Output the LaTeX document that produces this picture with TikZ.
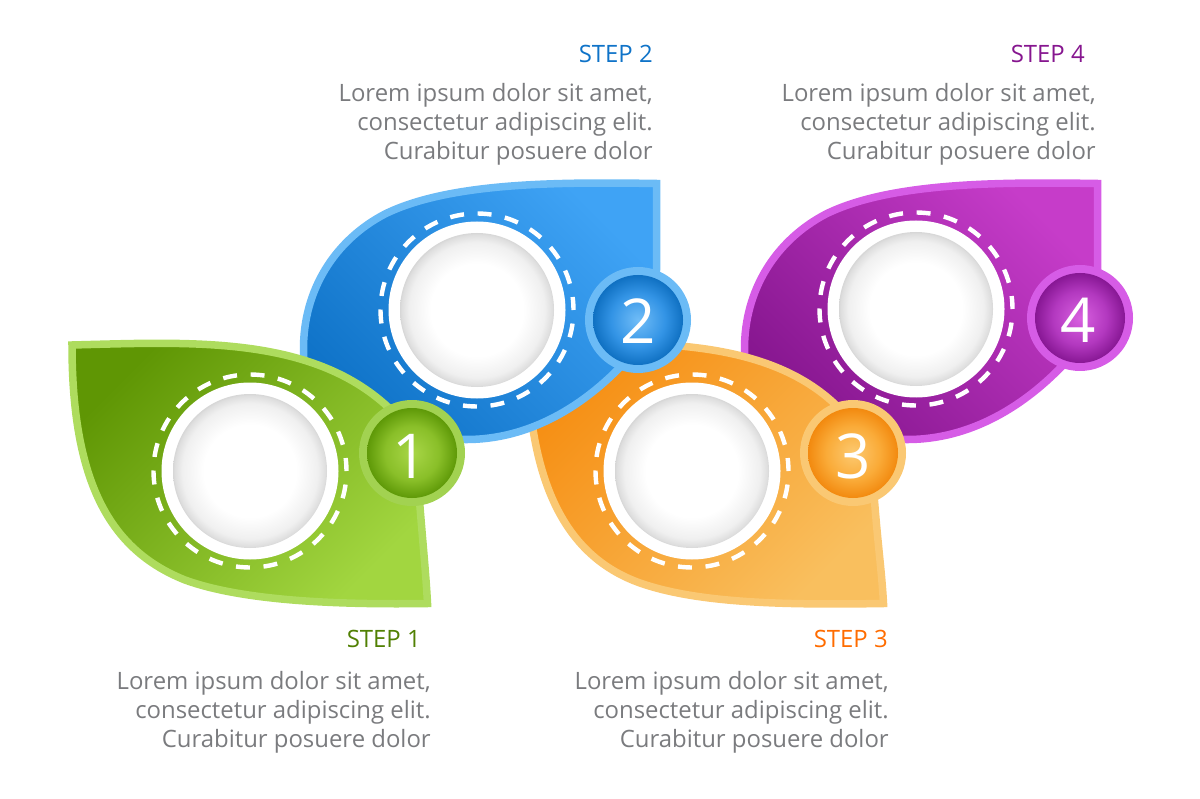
\documentclass[tikz,border=0pt]{standalone}
\usepackage{fontspec}
\setmainfont{Open Sans}

\definecolor{greenrim}{HTML}{AEDC5E}
\definecolor{greendark}{HTML}{5F9604}
\definecolor{greenlight}{HTML}{A2D640}
\definecolor{bluerim}{HTML}{6BBBF6}
\definecolor{bluedark}{HTML}{0F73C8}
\definecolor{bluelight}{HTML}{3FA3F5}
\definecolor{orangerim}{HTML}{FAC873}
\definecolor{orangedark}{HTML}{F68E12}
\definecolor{orangelight}{HTML}{F9BF5E}
\definecolor{purplerim}{HTML}{D65CE6}
\definecolor{purpledark}{HTML}{86168F}
\definecolor{purplelight}{HTML}{C63CC9}
\definecolor{bodygray}{HTML}{7A7B7E}

\pgfdeclareradialshading{discshade}{\pgfpoint{0bp}{0bp}}{color(0bp)=(white); color(15bp)=(white); color(22bp)=(black!6); color(24.5bp)=(black!13); color(25bp)=(black!16); color(50bp)=(black!16)}
\pgfdeclareradialshading{greenball}{\pgfpoint{0bp}{0bp}}{rgb(0bp)=(0.66,0.84,0.28); rgb(15bp)=(0.54,0.75,0.16); rgb(25bp)=(0.37,0.60,0.03); rgb(50bp)=(0.37,0.60,0.03)}
\pgfdeclareradialshading{blueball}{\pgfpoint{0bp}{0bp}}{rgb(0bp)=(0.44,0.74,0.97); rgb(15bp)=(0.20,0.58,0.90); rgb(25bp)=(0.06,0.44,0.76); rgb(50bp)=(0.06,0.44,0.76)}
\pgfdeclareradialshading{orangeball}{\pgfpoint{0bp}{0bp}}{rgb(0bp)=(0.99,0.79,0.44); rgb(15bp)=(0.98,0.67,0.22); rgb(25bp)=(0.95,0.54,0.06); rgb(50bp)=(0.95,0.54,0.06)}
\pgfdeclareradialshading{purpleball}{\pgfpoint{0bp}{0bp}}{rgb(0bp)=(0.85,0.38,0.88); rgb(15bp)=(0.70,0.22,0.75); rgb(25bp)=(0.53,0.09,0.58); rgb(50bp)=(0.53,0.09,0.58)}

\tikzset{
  leaf/.style={line width=0.1875cm, line join=miter, miter limit=10},
  stitch/.style={draw=white, line width=0.11cm, dash pattern=on 0.35cm off 0.34cm, dash phase=0.35cm},
  steptitle/.style={anchor=base east, inner sep=0pt, font=\fontsize{17}{20}\selectfont},
  steptext/.style={anchor=north east, inner sep=0pt, align=right, text=bodygray, font=\fontsize{17}{20.6}\selectfont},
  badgenum/.style={inner sep=0pt, text=white, font=\fontsize{44}{44}\selectfont}
}

\begin{document}
\begin{tikzpicture}[x=0.025cm, y=-0.025cm]
\pgfmathsetmacro{\ra}{77}
\pgfmathsetmacro{\rb}{88.5}
\pgfmathsetmacro{\rc}{96.5}
\pgfmathsetmacro{\rd}{53}
\pgfmathsetmacro{\re}{45}

\useasboundingbox (0, 0) rectangle (1200, 799);

\draw[leaf, draw=purplerim, left color=purpledark, right color=purplelight, shading angle=135]
  (1097.5, 183.5) .. controls (1001, 182) and (891, 182) .. (826, 214)
  .. controls (776, 240) and (744, 290) .. (744.5, 350) -- (744.5, 435) -- (906, 439.5)
  .. controls (971, 440) and (1026, 405) .. (1066, 362)
  .. controls (1091, 335) and (1096, 300) .. (1097.5, 270) -- cycle;

\draw[leaf, draw=orangerim, left color=orangedark, right color=orangelight, shading angle=45]
  (527, 345) .. controls (640, 342) and (765, 335) .. (838, 407)
  .. controls (858, 430) and (872, 465) .. (875, 507)
  .. controls (878, 545) and (882, 575) .. (883.5, 603.5)
  .. controls (790, 605) and (700, 604) .. (640, 583)
  .. controls (570, 558) and (527, 490) .. (527, 345) -- cycle;

\draw[leaf, draw=bluerim, left color=bluedark, right color=bluelight, shading angle=135]
  (656.5, 183.5) .. controls (560, 182) and (450, 182) .. (385, 214)
  .. controls (335, 240) and (303, 290) .. (303.5, 350) -- (303.5, 435) -- (465, 439.5)
  .. controls (530, 440) and (585, 405) .. (625, 362)
  .. controls (650, 335) and (655, 300) .. (656.5, 270) -- cycle;

\draw[leaf, draw=greenrim, left color=greendark, right color=greenlight, shading angle=45]
  (72, 345) .. controls (190, 342) and (310, 335) .. (388, 407)
  .. controls (408, 430) and (417, 470) .. (420, 507)
  .. controls (423, 545) and (426, 575) .. (427.5, 603.5)
  .. controls (330, 605) and (240, 600) .. (185, 580)
  .. controls (115, 552) and (72, 490) .. (72, 345) -- cycle;

\draw[stitch] (250, 471) circle[radius=\rc];
\fill[white] (250, 471) circle[radius=\rb];
\shade[shading=discshade] (250, 471) circle[radius=\ra];

\draw[stitch] (477, 310) circle[radius=\rc];
\fill[white] (477, 310) circle[radius=\rb];
\shade[shading=discshade] (477, 310) circle[radius=\ra];

\draw[stitch] (692, 471) circle[radius=\rc];
\fill[white] (692, 471) circle[radius=\rb];
\shade[shading=discshade] (692, 471) circle[radius=\ra];

\draw[stitch] (916, 309) circle[radius=\rc];
\fill[white] (916, 309) circle[radius=\rb];
\shade[shading=discshade] (916, 309) circle[radius=\ra];

\fill[greenrim!85!greendark] (412, 453) circle[radius=\rd];
\shade[shading=greenball] (412, 453) circle[radius=\re];
\node[badgenum] (numone) at (410, 456) {1};

\fill[bluerim] (638, 320) circle[radius=\rd];
\shade[shading=blueball] (638, 320) circle[radius=\re];
\node[badgenum] (numtwo) at (638, 321) {2};

\fill[orangerim] (853, 453) circle[radius=\rd];
\shade[shading=orangeball] (853, 453) circle[radius=\re];
\node[badgenum] (numthree) at (853, 456) {3};

\fill[purplerim] (1080, 318) circle[radius=\rd];
\shade[shading=purpleball] (1080, 318) circle[radius=\re];
\node[badgenum] (numfour) at (1078, 320) {4};

\node[steptitle, text=greendark!85!black] (titleone) at (421, 647) {STEP 1};
\node[steptitle, text=bluedark] (titletwo) at (653, 63) {STEP 2};
\node[steptitle, text=orange!85!red] (titlethree) at (888, 647) {STEP 3};
\node[steptitle, text=purpledark] (titlefour) at (1085, 63) {STEP 4};

\node[steptext] (textone) at (431, 671) {Lorem ipsum dolor sit amet,\\consectetur adipiscing elit.\\Curabitur posuere dolor};
\node[steptext] (texttwo) at (653, 83) {Lorem ipsum dolor sit amet,\\consectetur adipiscing elit.\\Curabitur posuere dolor};
\node[steptext] (textthree) at (889, 671) {Lorem ipsum dolor sit amet,\\consectetur adipiscing elit.\\Curabitur posuere dolor};
\node[steptext] (textfour) at (1096, 83) {Lorem ipsum dolor sit amet,\\consectetur adipiscing elit.\\Curabitur posuere dolor};
\end{tikzpicture}
\end{document}
